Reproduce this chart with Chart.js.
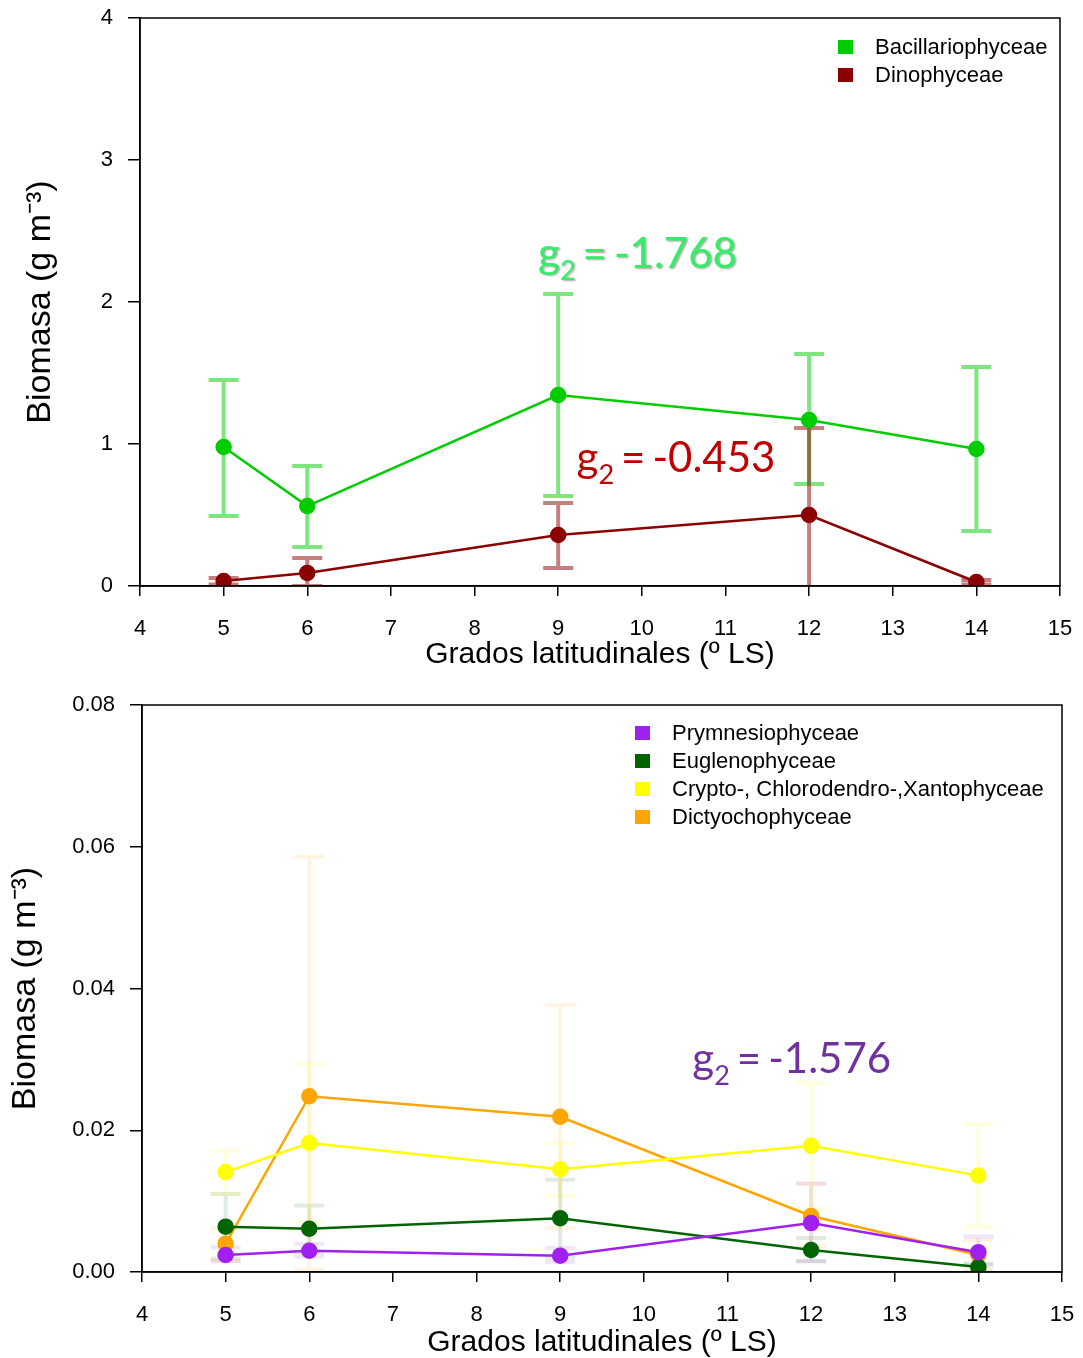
<!DOCTYPE html>
<html>
<head>
<meta charset="utf-8">
<script src="https://cdn.jsdelivr.net/npm/chart.js@4.4.1/dist/chart.umd.min.js"></script>
<style>
  body { margin: 0; background: #fff; overflow: hidden; }
  .box { position: absolute; left: 0; width: 1083px; }
</style>
</head>
<body>
<div class="box" style="top:0;height:673px"><canvas id="chartTop" width="1083" height="673"></canvas></div>
<div class="box" style="top:680px;height:681px"><canvas id="chartBottom" width="1083" height="681"></canvas></div>
<script>
// latitudes (x values)
const latitudes = [5, 6, 9, 12, 14];
const xTicks = [4, 5, 6, 7, 8, 9, 10, 11, 12, 13, 14, 15];

// top panel - means and error limits
const bacillMean = [0.979, 0.563, 1.345, 1.169, 0.965];
const bacillLow  = [0.493, 0.275, 0.634, 0.718, 0.387];
const bacillHigh = [1.450, 0.845, 2.056, 1.634, 1.542];

const dinoMean = [0.035, 0.092, 0.359, 0.500, 0.028];
const dinoLow  = [0.010, 0.000, 0.127, -0.110, 0.010];
const dinoHigh = [0.056, 0.197, 0.585, 1.113, 0.042];

// bottom panel
const prymMean = [0.0024, 0.0030, 0.0023, 0.0069, 0.0028];
const prymLow  = [0.0015, 0.0022, 0.0014, 0.0015, 0.0010];
const prymHigh = [0.0035, 0.0040, 0.0034, 0.0125, 0.0050];

const eugMean = [0.0064, 0.0061, 0.0076, 0.0031, 0.0007];
const eugLow  = [0.0019, 0.0028, 0.0020, 0.0015, 0.0000];
const eugHigh = [0.0110, 0.0094, 0.0130, 0.0048, 0.0012];

const cryMean = [0.0141, 0.0182, 0.0145, 0.0178, 0.0136];
const cryLow  = [0.0110, 0.0071, 0.0108, 0.0089, 0.0064];
const cryHigh = [0.0171, 0.0293, 0.0182, 0.0267, 0.0208];

const dicMean = [0.0040, 0.0248, 0.0219, 0.0079, 0.0024];
const dicLow  = [0.0015, 0.0003, 0.0062, 0.0036, 0.0005];
const dicHigh = [0.0062, 0.0586, 0.0377, 0.0124, 0.0045];

const topYTicks = [0, 1, 2, 3, 4];
const bottomYTicks = [0, 0.02, 0.04, 0.06, 0.08];

function toPoints(vals) {
  return latitudes.map((x, i) => ({ x: x, y: vals[i] }))
}

function series(label, color, barColor, mean, low, high) {
  return {
    label: label,
    data: toPoints(mean),
    errLow: low,
    errHigh: high,
    barColor: barColor,
    borderColor: color,
    backgroundColor: color,
    pointBackgroundColor: color,
    pointBorderColor: color,
    pointRadius: 7,
    borderWidth: 2.5,
    showLine: true,
    tension: 0
  }
}

// error bars, drawn under the lines
const errorBars = {
  id: 'errorBars',
  beforeDatasetsDraw(chart) {
    const ctx = chart.ctx;
    const xs = chart.scales.x, ys = chart.scales.y;
    const a = chart.chartArea;
    ctx.save();
    ctx.beginPath();
    ctx.rect(a.left, a.top, a.right - a.left, a.bottom - a.top);
    ctx.clip();
    chart.data.datasets.forEach(ds => {
      ctx.strokeStyle = ds.barColor;
      ctx.lineWidth = 4;
      ds.data.forEach((p, i) => {
        const px = xs.getPixelForValue(p.x);
        const lo = ys.getPixelForValue(ds.errLow[i]);
        const hi = ys.getPixelForValue(ds.errHigh[i]);
        ctx.beginPath();
        ctx.moveTo(px, lo); ctx.lineTo(px, hi);
        ctx.moveTo(px - 15, lo); ctx.lineTo(px + 15, lo);
        ctx.moveTo(px - 15, hi); ctx.lineTo(px + 15, hi);
        ctx.stroke();
      })
    })
    ctx.restore();
  }
}

// box around plot + legend + g2 labels
const extras = {
  id: 'extras',
  afterDraw(chart, args, opts) {
    const ctx = chart.ctx;
    const a = chart.chartArea;
    const xs = chart.scales.x, ys = chart.scales.y;
    ctx.save();
    ctx.strokeStyle = '#000';
    ctx.lineWidth = 1.5;
    ctx.strokeRect(a.left, a.top, a.right - a.left, a.bottom - a.top);

    // legend
    ctx.font = '22px "Liberation Sans", Arial, sans-serif';
    ctx.textBaseline = 'middle';
    chart.data.datasets.forEach((ds, i) => {
      const y = opts.legendY + i * 28;
      ctx.fillStyle = ds.borderColor;
      ctx.fillRect(opts.legendX, y - 7, 15, 14);
      ctx.fillStyle = '#000';
      ctx.fillText(ds.label, opts.legendX + 37, y + 1);
    })

    // g2 annotations
    const big = '42px Lato, "Open Sans", sans-serif';
    const small = '27px Lato, "Open Sans", sans-serif';
    opts.notes.forEach(n => {
      let x = xs.getPixelForValue(n.x);
      const y = ys.getPixelForValue(n.y);
      ctx.fillStyle = n.color;
      ctx.textBaseline = 'alphabetic';
      if (n.shadow) {
        ctx.shadowColor = 'rgba(0,0,0,0.35)';
        ctx.shadowOffsetX = 1.5;
        ctx.shadowOffsetY = 1.5;
        ctx.shadowBlur = 2;
      }
      ctx.font = big;
      ctx.fillText('g', x, y);
      x += ctx.measureText('g').width;
      ctx.font = small;
      ctx.fillText('2', x, y + 12);
      x += ctx.measureText('2').width + 7;
      ctx.font = big;
      ctx.fillText('=', x, y);
      x += ctx.measureText('=').width + 7;
      ctx.fillText(n.text, x, y);
      ctx.shadowColor = 'transparent';
    })
    ctx.restore();
  }
}

function makeOptions(yMin, yMax, yTicks, yFmt, leftW, bottomH, padTop, padRight, titlePad, extraOpts) {
  const tickFont = { family: '"Liberation Sans", Arial, sans-serif', size: 22 };
  return {
    responsive: false,
    animation: false,
    layout: { padding: { top: padTop, right: padRight, left: 0, bottom: 0 } },
    plugins: {
      legend: { display: false },
      tooltip: { enabled: false },
      extras: extraOpts
    },
    scales: {
      x: {
        type: 'linear',
        min: 4, max: 15,
        afterBuildTicks: s => { s.ticks = xTicks.map(v => ({ value: v })) },
        afterFit: s => { s.height = bottomH; s.paddingLeft = 0; s.paddingRight = 0 },
        grid: { drawOnChartArea: false, drawTicks: true, tickLength: 10, color: '#000', lineWidth: 1.5 },
        border: { display: true, color: '#000', width: 1.5 },
        ticks: { color: '#000', font: tickFont, padding: 20, maxRotation: 0 },
        title: {
          display: true,
          text: 'Grados latitudinales (º LS)',
          color: '#000',
          font: { family: '"Liberation Sans", Arial, sans-serif', size: 30 },
          padding: { top: 0, bottom: 0 }
        }
      },
      y: {
        min: yMin, max: yMax,
        afterBuildTicks: s => { s.ticks = yTicks.map(v => ({ value: v })) },
        afterFit: s => { s.width = leftW; s.paddingTop = 0; s.paddingBottom = 0 },
        grid: { drawOnChartArea: false, drawTicks: true, tickLength: 12, color: '#000', lineWidth: 1.5 },
        border: { display: true, color: '#000', width: 1.5 },
        ticks: { color: '#000', font: tickFont, padding: 15, callback: yFmt },
        title: {
          display: true,
          text: 'Biomasa (g m⁻³)',
          color: '#000',
          font: { family: '"Liberation Sans", Arial, sans-serif', size: 34 },
          padding: { top: titlePad, bottom: 0 }
        }
      }
    }
  }
}

new Chart(document.getElementById('chartTop').getContext('2d'), {
  type: 'scatter',
  data: {
    datasets: [
      series('Bacillariophyceae', '#00CD00', 'rgba(0,205,0,0.5)', bacillMean, bacillLow, bacillHigh),
      series('Dinophyceae', '#8B0000', 'rgba(139,0,0,0.5)', dinoMean, dinoLow, dinoHigh)
    ]
  },
  options: makeOptions(0, 4, topYTicks, v => String(v), 140, 87, 18, 23, 20, {
    legendX: 838, legendY: 47,
    notes: [
      { x: 8.76, y: 2.24, text: '-1.768', color: '#33EE66', shadow: true },
      { x: 9.22, y: 0.80, text: '-0.453', color: '#C00000', shadow: false }
    ]
  }),
  plugins: [errorBars, extras]
})

new Chart(document.getElementById('chartBottom').getContext('2d'), {
  type: 'scatter',
  data: {
    datasets: [
      series('Prymnesiophyceae', '#A020F0', 'rgba(160,32,240,0.12)', prymMean, prymLow, prymHigh),
      series('Euglenophyceae', '#006400', 'rgba(0,100,0,0.12)', eugMean, eugLow, eugHigh),
      series('Crypto-, Chlorodendro-,Xantophyceae', '#FFFF00', 'rgba(255,255,0,0.12)', cryMean, cryLow, cryHigh),
      series('Dictyochophyceae', '#FFA500', 'rgba(255,165,0,0.12)', dicMean, dicLow, dicHigh)
    ]
  },
  options: makeOptions(0, 0.08, bottomYTicks, v => v.toFixed(2), 142, 89, 25, 21, 5, {
    legendX: 635, legendY: 53,
    notes: [
      { x: 10.58, y: 0.0281, text: '-1.576', color: '#7030A0', shadow: false }
    ]
  }),
  plugins: [errorBars, extras]
})
</script>
</body>
</html>
